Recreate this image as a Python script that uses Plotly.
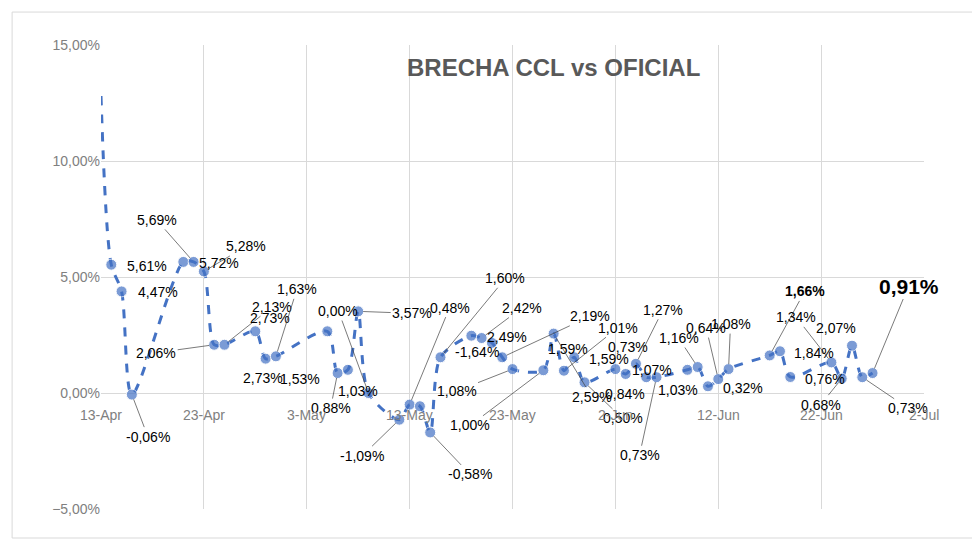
import datetime as dt
import plotly.graph_objects as go

# days after 13-Apr and the spread (%)
day_offsets = [0, 1, 2, 3, 8, 9, 10, 11, 12, 15, 16, 17, 22, 23, 24, 25, 26, 29, 30, 31,
               32, 33, 36, 37, 38, 39, 40, 43, 44, 45, 46, 47, 50, 51, 52, 53, 54, 57, 58,
               59, 60, 61, 65, 66, 67, 71, 72, 73, 74, 75]
brecha = [12.8, 5.53, 4.38, -0.07, 5.65, 5.65, 5.24, 2.08, 2.08, 2.66, 1.48, 1.58, 2.66,
          0.86, 1.0, 3.52, 0.0, -1.15, -0.5, -0.57, -1.70, 1.54, 2.47, 2.37, 2.16, 1.54,
          1.03, 0.98, 2.56, 0.96, 1.54, 0.46, 1.03, 0.82, 1.26, 0.68, 0.68, 1.0, 1.12,
          0.29, 0.6, 1.03, 1.62, 1.80, 0.69, 1.32, 0.62, 2.04, 0.68, 0.86]

# data labels as shown (text, point index, dx, dy, leader line)
labels = [
    ("5,61%", 1, 36, 1, False), ("4,47%", 2, 36, 1, False), ("-0,06%", 3, 16, 42, True),
    ("5,69%", 5, -37, -42, True), ("5,28%", 6, 42, -25, True), ("5,72%", 6, 15, -8, False),
    ("2,06%", 7, -58, 8, True), ("2,13%", 8, 48, -38, True), ("2,73%", 9, 15, -13, False),
    ("2,73%", 10, -3, 19, False), ("1,53%", 11, 24, 23, False), ("1,63%", 11, 21, -67, True),
    ("0,00%", 16, -30, -82, True), ("3,57%", 15, 54, 2, True), ("0,48%", 18, 40, -97, True),
    ("1,03%", 16, -10, -2, False), ("0,88%", 13, -7, 35, True), ("-1,09%", 17, -37, 36, True),
    ("-0,58%", 20, 40, 42, True), ("1,60%", 21, 65, -79, True), ("2,42%", 23, 40, -30, True),
    ("2,49%", 24, 15, -6, False), ("-1,64%", 25, -25, -5, False), ("1,08%", 26, -56, 22, True),
    ("1,00%", 27, -73, 55, True), ("2,19%", 25, 88, -41, True), ("1,59%", 28, 14, 15, False),
    ("2,59%", 28, 38, 63, True), ("1,01%", 29, 54, -43, True), ("1,59%", 32, -6, -10, False),
    ("0,73%", 33, 2, -27, False), ("1,27%", 34, 27, -54, True), ("0,84%", 33, -1, 20, False),
    ("0,50%", 31, 38, 36, True), ("1,07%", 36, -5, -7, False), ("0,73%", 36, -17, 78, True),
    ("1,03%", 37, -9, 20, False), ("1,16%", 38, -19, -29, True), ("0,64%", 40, -12, -51, True),
    ("1,08%", 41, 2, -45, True), ("0,32%", 40, 25, 9, False), ("1,66%", 42, 35, -64, True),
    ("1,34%", 45, -35, -45, True), ("2,07%", 47, -16, -18, False), ("1,84%", 45, -17, -9, False),
    ("0,76%", 46, -17, 0, False), ("0,68%", 46, -21, 26, True), ("0,73%", 48, 46, 31, True),
    ("0,91%", 49, 36, -87, True),
]

tick_days = [0, 10, 20, 30, 40, 50, 60, 70, 80]
start = dt.date(2023, 4, 13)
dates = [start + dt.timedelta(days=d) for d in day_offsets]
tick_dates = [start + dt.timedelta(days=d) for d in tick_days]
values = [v / 100 for v in brecha]

FONT = "Liberation Sans"
BLUE = "#4472C4"
GRID = "#d9d9d9"

fig = go.Figure(go.Scatter(
    x=dates, y=values, mode="lines+markers",
    line=dict(color=BLUE, width=3, dash="dash", shape="spline", smoothing=0.8),
    marker=dict(color=BLUE, size=[0] + [11] * (len(values) - 1)),
    hoverinfo="skip"))

annotations = []
for text, i, dx, dy, arrow in labels:
    big = text == "0,91%"
    bold = text in ("0,91%", "1,66%")
    font = dict(family=FONT, size=21 if big else 14, color="black")
    shown = "<b>%s</b>" % text if bold else text
    if arrow:
        annotations.append(dict(x=dates[i], y=values[i], text=shown, showarrow=True,
                                ax=dx, ay=dy, arrowhead=0, arrowwidth=0.7,
                                arrowcolor="#404040", standoff=5, font=font))
    else:
        annotations.append(dict(x=dates[i], y=values[i], text=shown, showarrow=False,
                                xshift=dx, yshift=-dy, font=font))

for d in tick_dates:
    annotations.append(dict(x=d, y=0, text=d.strftime("%-d-%b"), showarrow=False,
                            yshift=-22, font=dict(family=FONT, size=14, color="#808080")))

annotations.append(dict(x=0.55, y=0.985, xref="paper", yref="paper", showarrow=False,
                        text="<b>BRECHA CCL vs OFICIAL</b>",
                        font=dict(family=FONT, size=24, color="#595959")))

fig.update_layout(
    width=980, height=552, showlegend=False,
    paper_bgcolor="white", plot_bgcolor="white",
    margin=dict(l=93, r=64, t=37, b=51),
    separators=",.",
    annotations=annotations,
    xaxis=dict(range=[tick_dates[0], tick_dates[-1]], tickvals=tick_dates,
               showticklabels=False, showgrid=True, gridcolor=GRID, zeroline=False,
               showline=False, automargin=False),
    yaxis=dict(range=[-0.05, 0.15], dtick=0.05, tickformat=".2%", showgrid=True,
               gridcolor=GRID, zeroline=True, zerolinecolor=GRID, zerolinewidth=1,
               tickfont=dict(family=FONT, size=14, color="#808080"), ticks="",
               automargin=False),
    shapes=[dict(type="rect", xref="paper", yref="paper", x0=-0.108, x1=1.061,
                 y0=-0.0625, y1=1.071, line=dict(color=GRID, width=1))],
)

fig.write_html("out.html")
